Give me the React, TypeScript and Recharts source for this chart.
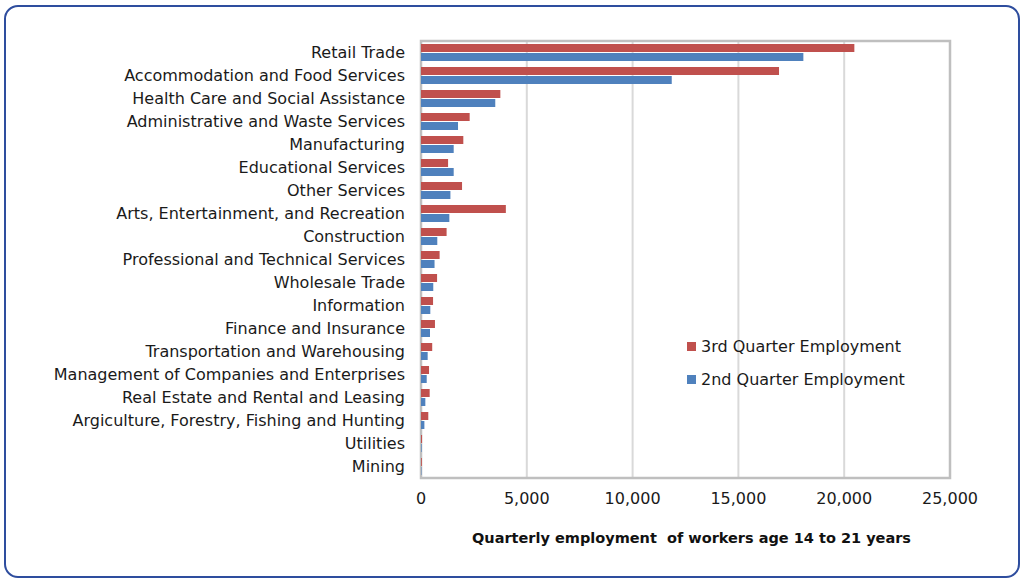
import React from 'react';
import { BarChart, Bar, XAxis, YAxis, CartesianGrid, ReferenceArea } from 'recharts';

const categories = [
  'Retail Trade',
  'Accommodation and Food Services',
  'Health Care and Social Assistance',
  'Administrative and Waste Services',
  'Manufacturing',
  'Educational Services',
  'Other Services',
  'Arts, Entertainment, and Recreation',
  'Construction ',
  'Professional and Technical Services',
  'Wholesale Trade',
  'Information',
  'Finance and Insurance',
  'Transportation and Warehousing',
  'Management of Companies and Enterprises',
  'Real Estate and Rental and Leasing',
  'Argiculture, Forestry, Fishing and Hunting',
  'Utilities',
  'Mining',
];

const q3Values = [20480, 16920, 3750, 2300, 2000, 1280, 1940, 4010, 1210, 880, 760, 570, 660, 530, 380, 410, 345, 50, 40];
const q2Values = [18070, 11850, 3510, 1750, 1545, 1545, 1390, 1340, 770, 640, 580, 440, 425, 315, 270, 205, 160, 30, 20];

const xTicks = [0, 5000, 10000, 15000, 20000, 25000];

const seriesNames = ['3rd Quarter Employment', '2nd Quarter Employment'];
const seriesColors = ['#c0504d', '#4f81bd'];

const data = categories.map((name, i) => ({ name, q3: q3Values[i], q2: q2Values[i] }));

const FONT = '"DejaVu Sans", sans-serif';

export default function App() {
  return (
    <div style={{ position: 'fixed', left: 0, top: 0, width: 1024, height: 582, background: '#fff' }}>
      <div
        style={{
          position: 'absolute',
          left: 4,
          top: 5,
          width: 1012,
          height: 569,
          border: '2.5px solid #2e4d9e',
          borderRadius: 14,
        }}
      />
      <div style={{ position: 'absolute', left: 0, top: 0 }}>
        <BarChart
          width={1024}
          height={582}
          data={data}
          layout="vertical"
          margin={{ top: 41, right: 74, bottom: 44, left: 0 }}
          barSize={8}
          barGap={1}
        >
          <CartesianGrid horizontal={false} vertical={true} stroke="#d9d9d9" strokeWidth={2} />
          <XAxis
            type="number"
            domain={[0, 25000]}
            ticks={xTicks}
            tickFormatter={(v: number) => v.toLocaleString('en-US')}
            axisLine={false}
            tickLine={false}
            tick={{ fontFamily: FONT, fontSize: 16, fill: '#1a1a1a' }}
            tickMargin={9}
            height={60}
            label={{
              value: 'Quarterly employment\u00A0 of workers age 14 to 21 years',
              position: 'insideBottom',
              offset: 0,
              dx: 6,
              dy: 5,
              style: { fontFamily: FONT, fontSize: 14.5, fontWeight: 'bold', fill: '#111' },
            }}
          />
          <YAxis
            type="category"
            dataKey="name"
            width={421}
            axisLine={false}
            tickLine={false}
            interval={0}
            tickMargin={10}
            tick={{ fontFamily: FONT, fontSize: 16, fill: '#1a1a1a' }}
          />
          <ReferenceArea x1={0} x2={25000} fill="none" stroke="#bfbfbf" strokeWidth={2.5} ifOverflow="visible" />
          <Bar dataKey="q3" name={seriesNames[0]} fill={seriesColors[0]} isAnimationActive={false} />
          <Bar dataKey="q2" name={seriesNames[1]} fill={seriesColors[1]} isAnimationActive={false} />
        </BarChart>
      </div>
      <div style={{ position: 'absolute', left: 687, top: 330, fontFamily: FONT, fontSize: 16, color: '#1a1a1a' }}>
        {seriesNames.map((n, i) => (
          <div key={n} style={{ display: 'flex', alignItems: 'center', height: 33 }}>
            <span style={{ display: 'inline-block', width: 9, height: 9, background: seriesColors[i], marginRight: 5 }} />
            <span>{n}</span>
          </div>
        ))}
      </div>
    </div>
  );
}
